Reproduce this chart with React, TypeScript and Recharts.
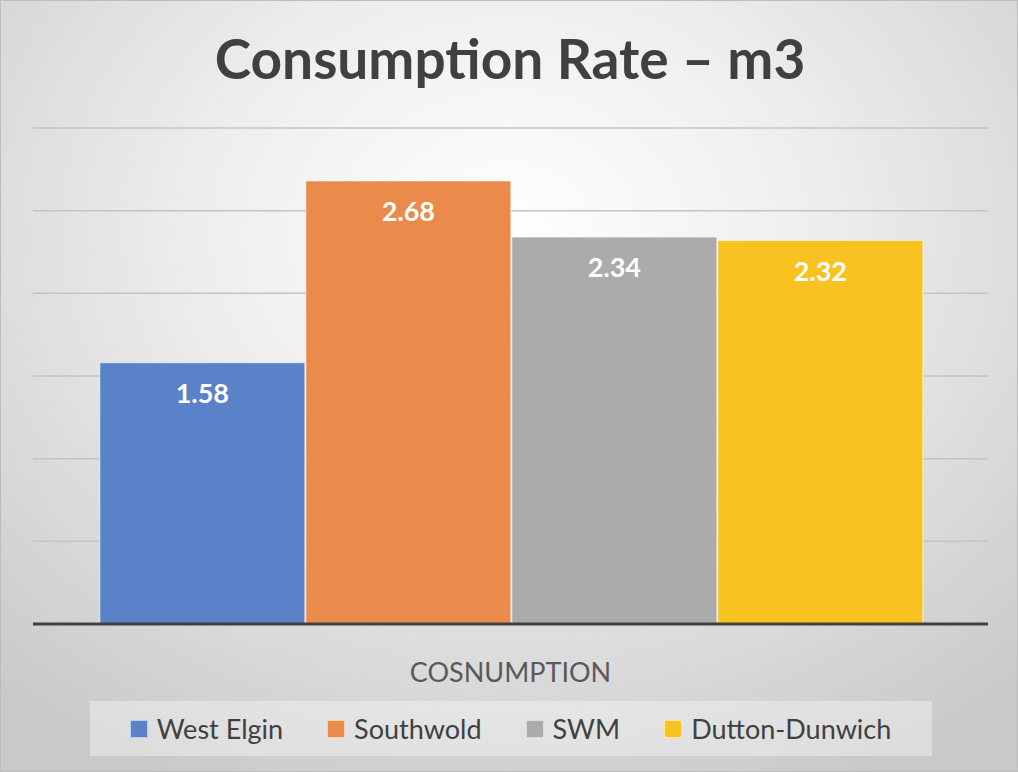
import { Bar, BarChart, CartesianGrid, LabelList, Legend, XAxis, YAxis } from "recharts"

const categories = ["COSNUMPTION"]
const seriesNames = ["West Elgin", "Southwold", "SWM", "Dutton-Dunwich"]
const seriesValues = [[1.58], [2.68], [2.34], [2.32]]
const seriesColors = ["#5a82c9", "#eb8b4b", "#ababab", "#f8c321"]
const yTicks = [0, 0.5, 1, 1.5, 2, 2.5, 3]

const data = categories.map((name, i) => {
  const row: Record<string, string | number> = { name }
  seriesNames.forEach((s, j) => {
    row[s] = seriesValues[j][i]
  })
  return row
})

const font = "Lato, 'Open Sans', sans-serif"

function AxisTick(props: any) {
  const { x, y, payload } = props
  return (
    <text x={x} y={y + 43} textAnchor="middle" dominantBaseline="middle" fill="#595959" fontSize={27} fontFamily={font}>
      {payload.value}
    </text>
  )
}

function LegendBox(props: any) {
  // keep the series order, recharts sorts the payload otherwise
  const items = [...(props.payload || [])].sort(
    (a: any, b: any) => seriesNames.indexOf(a.value) - seriesNames.indexOf(b.value)
  )
  return (
    <div
      style={{
        width: 842,
        height: 55,
        margin: "0 auto",
        background: "rgba(255,255,255,0.35)",
        display: "flex",
        alignItems: "center",
        justifyContent: "center",
        gap: 44,
        fontFamily: font,
        fontSize: 27,
        color: "#404040"
      }}
    >
      {items.map((item: any) => (
        <div key={item.value} style={{ display: "flex", alignItems: "center" }}>
          <span
            style={{
              width: 18,
              height: 18,
              background: item.color,
              border: "1px solid rgba(255,255,255,0.6)",
              boxSizing: "border-box",
              marginRight: 9,
              display: "inline-block"
            }}
          />
          <span>{item.value}</span>
        </div>
      ))}
    </div>
  )
}

export default function App() {
  return (
    <div
      style={{
        position: "absolute",
        left: 0,
        top: 0,
        width: 1018,
        height: 772,
        boxSizing: "border-box",
        border: "1px solid #bdbdbd",
        background: "radial-gradient(ellipse 75% 80% at 50% 30%, #ffffff 0%, #eeeeee 40%, #c9c9c9 100%)",
        overflow: "hidden"
      }}
    >
      <div
        style={{
          position: "absolute",
          top: 24,
          left: 0,
          width: 1018,
          textAlign: "center",
          fontFamily: font,
          fontWeight: 700,
          fontSize: 55,
          color: "#404040"
        }}
      >
        Consumption Rate – m3
      </div>
      <div style={{ position: "absolute", left: -1, top: -1 }}>
        <BarChart
          width={1018}
          height={772}
          data={data}
          margin={{ top: 128, right: 30, bottom: 16, left: 33 }}
          barCategoryGap="7%"
          barGap={1}
        >
          <CartesianGrid vertical={false} stroke="#c4c4c4" strokeWidth={1.5} />
          <YAxis hide domain={[0, 3]} ticks={yTicks} />
          <XAxis
            dataKey="name"
            height={77}
            axisLine={{ stroke: "#404040", strokeWidth: 3 }}
            tickLine={false}
            tick={<AxisTick />}
          />
          <Legend verticalAlign="bottom" align="center" content={<LegendBox />} />
          {seriesNames.map((s, i) => (
            <Bar
              key={s}
              dataKey={s}
              fill={seriesColors[i]}
              stroke="rgba(255,255,255,0.6)"
              strokeWidth={1}
              isAnimationActive={false}
            >
              <LabelList
                dataKey={s}
                position="insideTop"
                offset={21}
                formatter={(v: any) => Number(v).toFixed(2)}
                fill="#ffffff"
                fontSize={27}
                fontWeight={700}
                fontFamily={font}
              />
            </Bar>
          ))}
        </BarChart>
      </div>
    </div>
  )
}
